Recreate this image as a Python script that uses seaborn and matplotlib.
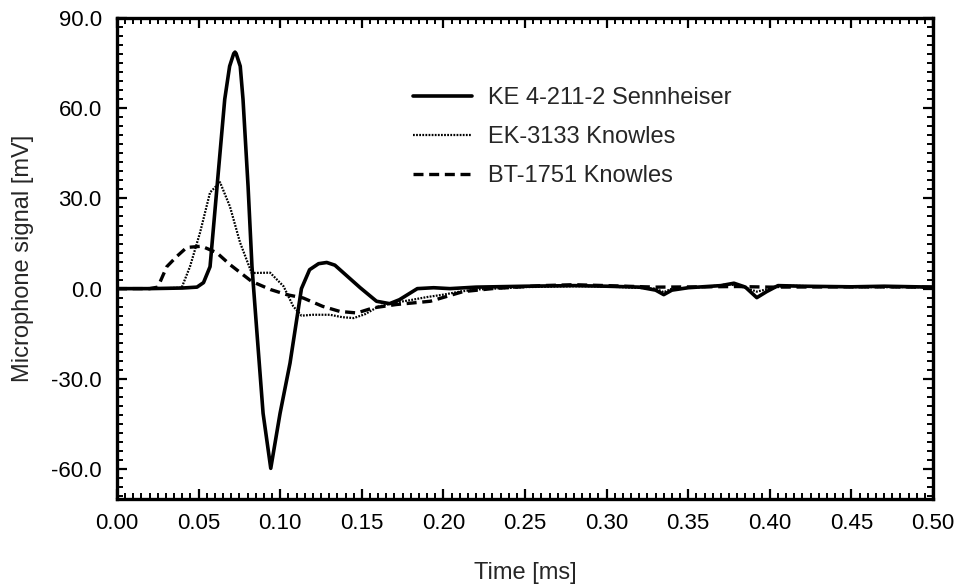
import numpy as np
import pandas as pd
import matplotlib
matplotlib.use("Agg")
import matplotlib.pyplot as plt
from matplotlib.ticker import MultipleLocator, FormatStrFormatter
import seaborn as sns

# values (time in ms, signal in mV)
t_ke = [0.0, 0.02, 0.04, 0.049, 0.053, 0.057, 0.0613, 0.066, 0.069, 0.0715, 0.0723, 0.073,
        0.0755, 0.0772, 0.0803, 0.0827, 0.0856, 0.0895, 0.0942, 0.0999, 0.106, 0.113, 0.118,
        0.1235, 0.1285, 0.1335, 0.1366, 0.149, 0.159, 0.167, 0.173, 0.184, 0.194, 0.204, 0.22,
        0.25, 0.28, 0.30, 0.32, 0.33, 0.335, 0.34, 0.35, 0.37, 0.378, 0.385, 0.392, 0.398,
        0.405, 0.42, 0.45, 0.47, 0.5]
v_ke = [0.0, 0.0, 0.2, 0.5, 2.0, 7.3, 34.0, 63.0, 74.0, 78.2, 78.7, 78.2,
        74.0, 63.0, 34.0, 7.3, -13.7, -41.5, -59.8, -41.5, -24.8, 0.0, 6.3,
        8.3, 8.7, 7.8, 6.3, 0.3, -4.2, -5.0, -3.7, 0.0, 0.3, 0.0, 0.5,
        0.8, 1.0, 0.8, 0.5, -0.5, -2.0, -0.5, 0.3, 1.0, 1.8, 0.5, -3.0, -1.0,
        1.0, 0.8, 0.6, 0.8, 0.5]

t_ek = [0.0, 0.02, 0.0396, 0.0447, 0.0509, 0.057, 0.0631, 0.0692, 0.0754, 0.0825, 0.0938,
        0.102, 0.108, 0.113, 0.120, 0.1305, 0.138, 0.145, 0.152, 0.16, 0.17, 0.18, 0.19,
        0.2, 0.21, 0.22, 0.25, 0.28, 0.3, 0.33, 0.335, 0.34, 0.36, 0.375, 0.385, 0.392,
        0.4, 0.41, 0.45, 0.5]
v_ek = [0.0, 0.0, 0.3, 7.3, 18.7, 32.0, 35.4, 27.3, 15.3, 5.2, 5.3,
        0.8, -5.9, -9.0, -8.7, -8.7, -9.5, -9.8, -8.5, -6.0, -4.7, -3.8, -2.8,
        -2.0, -1.0, -0.3, 0.5, 0.8, 0.7, 0.0, -1.2, 0.0, 0.5, 1.5, 0.3, -1.0,
        0.0, 1.0, 0.5, 0.5]

t_bt = [0.0, 0.02, 0.025, 0.0305, 0.0366, 0.0427, 0.0519, 0.061, 0.0692, 0.0825, 0.094,
        0.104, 0.114, 0.126, 0.1366, 0.147, 0.157, 0.171, 0.192, 0.212, 0.23, 0.26, 0.28,
        0.3, 0.33, 0.36, 0.38, 0.4, 0.45, 0.5]
v_bt = [0.0, 0.0, 0.5, 7.3, 10.7, 13.7, 14.1, 12.0, 8.0, 2.4, -0.3,
        -2.0, -3.1, -5.9, -7.6, -8.1, -6.4, -5.3, -4.2, -1.0, 0.0, 1.0, 1.3,
        1.0, 0.5, 0.6, 0.7, 0.5, 0.6, 0.5]

labels = ["KE 4-211-2 Sennheiser", "EK-3133 Knowles", "BT-1751 Knowles"]

sns.set_theme(style="ticks")
plt.rcParams["font.family"] = ["Liberation Sans", "DejaVu Sans"]

fig = plt.figure(figsize=(9.56, 5.85), dpi=100)
ax = fig.add_axes([0.1224, 0.147, 0.8536, 0.822])

sns.lineplot(x=t_ke, y=v_ke, ax=ax, color="black", linewidth=2.6, label=labels[0])
sns.lineplot(x=t_ek, y=v_ek, ax=ax, color="black", linewidth=1.6,
             linestyle=(0, (0.8, 0.6)), label=labels[1])
sns.lineplot(x=t_bt, y=v_bt, ax=ax, color="black", linewidth=2.4,
             linestyle=(0, (3.0, 1.7)), label=labels[2])

ax.set_xlim(0, 0.5)
ax.set_ylim(-70, 90)
ax.xaxis.set_major_locator(MultipleLocator(0.05))
ax.xaxis.set_minor_locator(MultipleLocator(0.005))
ax.yaxis.set_major_locator(MultipleLocator(30))
ax.yaxis.set_minor_locator(MultipleLocator(3))
ax.xaxis.set_major_formatter(FormatStrFormatter("%.2f"))
ax.yaxis.set_major_formatter(FormatStrFormatter("%.1f"))

ax.tick_params(which="both", direction="in", top=True, right=True,
               color="black", labelsize=16, labelcolor="black")
ax.tick_params(which="major", length=7.5, width=1.6)
ax.tick_params(which="minor", length=4.0, width=1.4)
ax.tick_params(axis="x", which="major", pad=10)
ax.tick_params(axis="y", which="major", pad=11)
for s in ax.spines.values():
    s.set_linewidth(2.4)
    s.set_color("black")

ax.set_xlabel("Time [ms]", fontsize=17, labelpad=20)
ax.set_ylabel("Microphone signal [mV]", fontsize=17, labelpad=12)

ax.legend(loc="upper left", bbox_to_anchor=(0.3627, 0.857), frameon=False,
          fontsize=17, handlelength=2.5, handletextpad=0.68, labelspacing=0.72,
          borderpad=0, borderaxespad=0)

fig.savefig("out.png", dpi=100)
